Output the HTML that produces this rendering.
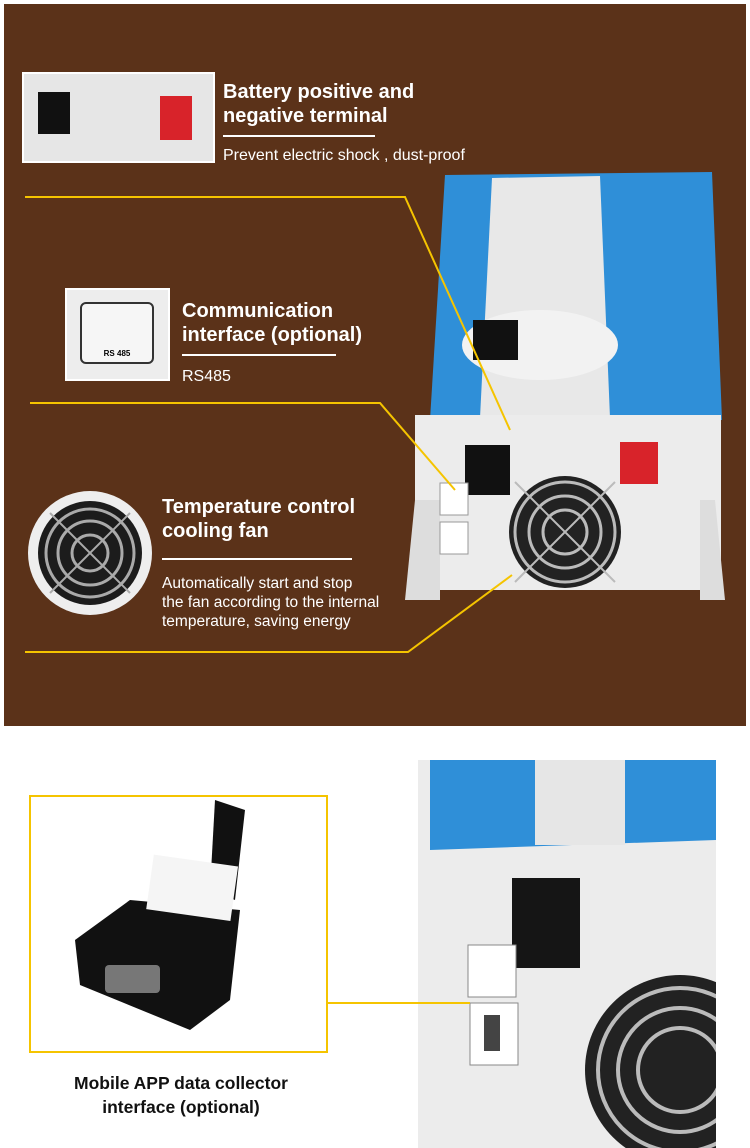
<!DOCTYPE html>
<html><head><meta charset="utf-8"><style>
body{margin:0;width:750px;height:1148px;background:#fff;position:relative;overflow:hidden;font-family:"Liberation Sans",Arial,sans-serif}
.a{position:absolute}
.t{color:#fff;font-weight:bold;font-size:20px;line-height:24px}
.s{color:#fff;font-size:16px;line-height:19px}
.ul{height:2px;background:#fff}
</style></head><body>
<div class="a" style="left:4px;top:4px;width:742px;height:722px;background:#5b3219"></div>

<svg class="a" style="left:0;top:0" width="750" height="730">
<polygon points="445,175 712,172 722,420 430,420" fill="#2f8fd8"/>
<polygon points="492,178 600,176 610,418 480,418" fill="#e8e8e8"/>
<ellipse cx="540" cy="345" rx="78" ry="35" fill="#f2f2f2"/>
<rect x="473" y="320" width="45" height="40" fill="#111"/>
<rect x="415" y="415" width="306" height="175" fill="#ececec"/>
<polygon points="415,500 405,600 440,600 440,500" fill="#ddd"/>
<polygon points="715,500 725,600 700,600 700,500" fill="#ddd"/>
<circle cx="565" cy="532" r="56" fill="#222"/>
<circle cx="565" cy="532" r="50" fill="none" stroke="#bbb" stroke-width="3"/>
<circle cx="565" cy="532" r="36" fill="none" stroke="#bbb" stroke-width="3"/>
<circle cx="565" cy="532" r="22" fill="none" stroke="#bbb" stroke-width="3"/>
<line x1="515" y1="482" x2="615" y2="582" stroke="#bbb" stroke-width="2"/>
<line x1="615" y1="482" x2="515" y2="582" stroke="#bbb" stroke-width="2"/>
<rect x="465" y="445" width="45" height="50" fill="#111"/>
<rect x="620" y="442" width="38" height="42" fill="#d8232a"/>
<rect x="440" y="483" width="28" height="32" fill="#fff" stroke="#999"/>
<rect x="440" y="522" width="28" height="32" fill="#fff" stroke="#999"/>
<polyline points="25,197 405,197 510,430" fill="none" stroke="#f5c400" stroke-width="2"/>
<polyline points="30,403 380,403 455,490" fill="none" stroke="#f5c400" stroke-width="2"/>
<polyline points="25,652 408,652 512,575" fill="none" stroke="#f5c400" stroke-width="2"/>
<circle cx="90" cy="553" r="62" fill="#eee"/>
<circle cx="90" cy="553" r="52" fill="#1c1c1c"/>
<circle cx="90" cy="553" r="44" fill="none" stroke="#aaa" stroke-width="3"/>
<circle cx="90" cy="553" r="32" fill="none" stroke="#aaa" stroke-width="3"/>
<circle cx="90" cy="553" r="18" fill="none" stroke="#aaa" stroke-width="3"/>
<line x1="50" y1="513" x2="130" y2="593" stroke="#aaa" stroke-width="2"/>
<line x1="130" y1="513" x2="50" y2="593" stroke="#aaa" stroke-width="2"/>
</svg>

<div class="a" style="left:22px;top:72px;width:189px;height:87px;border:2px solid #fff;background:#e6e6e6"></div>
<div class="a" style="left:38px;top:92px;width:32px;height:42px;background:#111"></div>
<div class="a" style="left:160px;top:96px;width:32px;height:44px;background:#d8232a"></div>
<div class="a t" style="left:223px;top:80px">Battery positive and<br>negative terminal</div>
<div class="a ul" style="left:223px;top:135px;width:152px"></div>
<div class="a s" style="left:223px;top:146px">Prevent electric shock , dust-proof</div>

<div class="a" style="left:65px;top:288px;width:101px;height:89px;border:2px solid #fff;background:#ededed"></div>
<div class="a" style="left:80px;top:302px;width:70px;height:58px;border:2px solid #333;border-radius:6px;background:#f6f6f6;font-size:8px;font-weight:bold;text-align:center;line-height:100px;overflow:hidden">RS 485</div>
<div class="a t" style="left:182px;top:299px">Communication<br>interface (optional)</div>
<div class="a ul" style="left:182px;top:354px;width:154px"></div>
<div class="a s" style="left:182px;top:367px">RS485</div>

<div class="a t" style="left:162px;top:495px">Temperature control<br>cooling fan</div>
<div class="a ul" style="left:162px;top:558px;width:190px"></div>
<div class="a s" style="left:162px;top:574px;font-size:15.5px">Automatically start and stop<br>the fan according to the internal<br>temperature, saving energy</div>

<svg class="a" style="left:0;top:740px" width="750" height="408">
<defs><clipPath id="c"><rect x="418" y="20" width="298" height="388"/></clipPath></defs>
<g clip-path="url(#c)">
<rect x="418" y="20" width="298" height="388" fill="#ececec"/>
<polygon points="430,20 716,20 716,100 430,110" fill="#2f8fd8"/>
<rect x="535" y="20" width="90" height="85" fill="#e6e6e6"/>
<rect x="512" y="138" width="68" height="90" fill="#151515"/>
<circle cx="680" cy="330" r="95" fill="#222"/>
<circle cx="680" cy="330" r="82" fill="none" stroke="#bbb" stroke-width="4"/>
<circle cx="680" cy="330" r="62" fill="none" stroke="#bbb" stroke-width="4"/>
<circle cx="680" cy="330" r="42" fill="none" stroke="#bbb" stroke-width="4"/>
<rect x="468" y="205" width="48" height="52" fill="#fff" stroke="#888"/>
<rect x="470" y="263" width="48" height="62" fill="#fff" stroke="#888"/>
<rect x="484" y="275" width="16" height="36" fill="#444"/>
</g>
<rect x="30" y="56" width="297" height="256" fill="#fff" stroke="#f5c400" stroke-width="2"/>
<line x1="328" y1="263" x2="470" y2="263" stroke="#f5c400" stroke-width="2"/>
<polygon points="215,60 245,70 235,160 210,150" fill="#111"/>
<polygon points="75,200 130,160 240,170 230,260 190,290 80,245" fill="#111"/>
<rect x="150" y="120" width="85" height="55" fill="#f5f5f5" transform="rotate(8 190 145)"/>
<rect x="105" y="225" width="55" height="28" rx="4" fill="#777"/>
</svg>
<div class="a" style="left:0;top:1071px;width:362px;text-align:center;font-weight:bold;font-size:17.5px;line-height:24px;color:#111">Mobile APP data collector<br>interface (optional)</div>
</body></html>
